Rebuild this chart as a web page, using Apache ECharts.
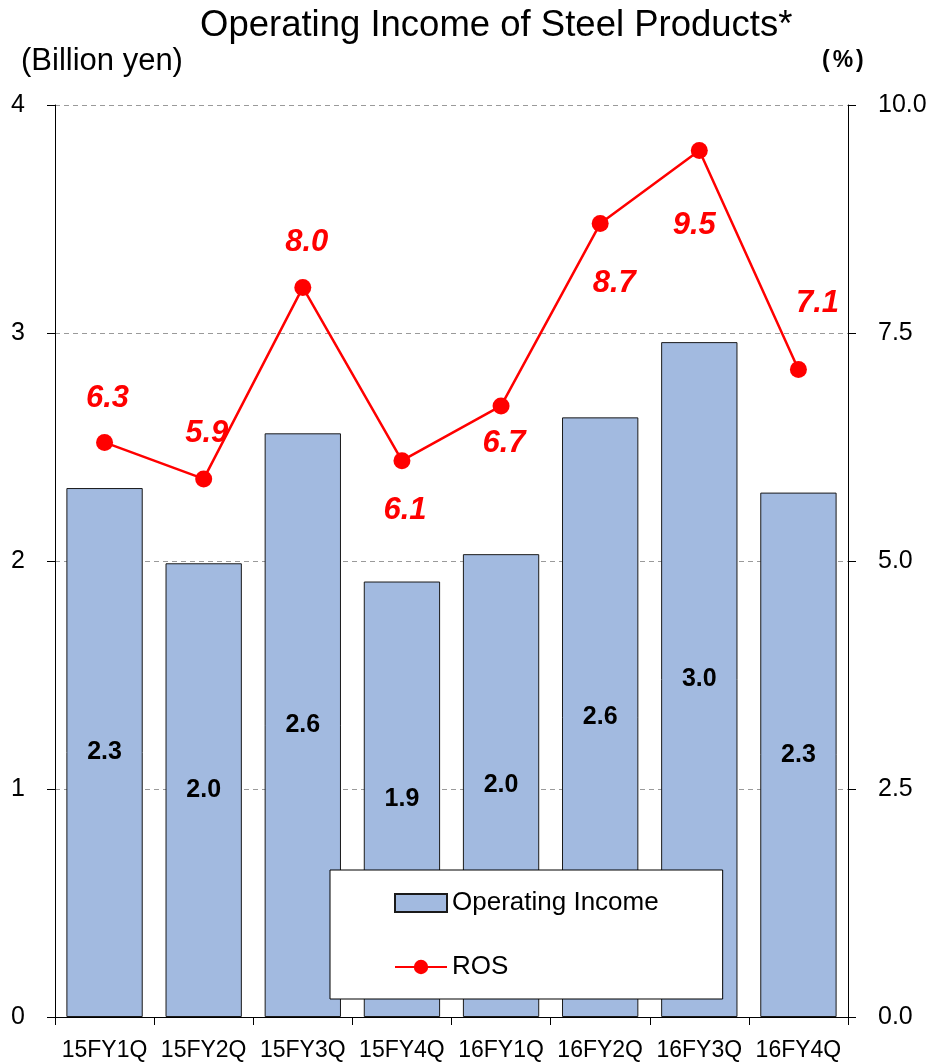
<!DOCTYPE html>
<html>
<head>
<meta charset="utf-8">
<script src="https://cdn.jsdelivr.net/npm/echarts@6/dist/echarts.min.js"></script>
<style>
  html, body { margin: 0; padding: 0; background: #fff; }
  #chart { width: 940px; height: 1062px; }
</style>
</head>
<body>
<div id="chart"></div>
<script>
const categories = ['15FY1Q', '15FY2Q', '15FY3Q', '15FY4Q', '16FY1Q', '16FY2Q', '16FY3Q', '16FY4Q']
const operatingIncome = [2.32, 1.99, 2.56, 1.91, 2.03, 2.63, 2.96, 2.30]
const ros = [6.3, 5.9, 8.0, 6.1, 6.7, 8.7, 9.5, 7.1]
const leftTicks = [0, 1, 2, 3, 4]
const rightTicks = [0, 2.5, 5, 7.5, 10]

// where each ROS label sits, measured from its marker
const rosLabelOffset = [[3, -44], [3, -45], [4, -45], [3, 50], [3, 37], [14, 60], [-5, 75], [19, -66]]

const FONT = '"Liberation Sans", Arial, sans-serif'

const chart = echarts.init(document.getElementById('chart'))

const option = {
  backgroundColor: '#fff',
  animation: false,
  textStyle: { fontFamily: FONT, color: '#000' },
  title: [{
    text: 'Operating Income of Steel Products*',
    left: 195,
    top: 2,
    textStyle: { fontFamily: FONT, fontSize: 36.5, fontWeight: 'normal', color: '#000' }
  }, {
    text: '(Billion yen)',
    left: 16,
    top: 41,
    textStyle: { fontFamily: FONT, fontSize: 31, fontWeight: 'normal', color: '#000' }
  }, {
    text: '{p|(}{b|%}{p|)}',
    left: 817,
    top: 44,
    textStyle: {
      rich: {
        p: { fontFamily: FONT, fontSize: 23, color: '#000' },
        b: { fontFamily: FONT, fontSize: 23, fontWeight: 'bold', color: '#000', padding: [0, 3, 0, 3] }
      }
    }
  }],
  grid: {
    left: 55,
    right: 92,
    top: 105,
    bottom: 45
  },
  legend: {
    orient: 'vertical',
    left: 330,
    top: 870,
    backgroundColor: '#fff',
    borderColor: '#000',
    borderWidth: 1,
    borderRadius: 0,
    padding: [20, 64, 19, 64],
    itemGap: 38,
    itemWidth: 52,
    itemHeight: 18,
    textStyle: { fontFamily: FONT, fontSize: 26, color: '#000', lineHeight: 25 },
    data: [{ name: 'Operating Income', icon: 'rect' }, { name: 'ROS' }]
  },
  xAxis: {
    type: 'category',
    data: categories,
    axisLine: { lineStyle: { color: '#000', width: 1 } },
    axisTick: { show: true, length: 8, lineStyle: { color: '#000' } },
    axisLabel: { interval: 0, fontFamily: FONT, fontSize: 23, color: '#000', margin: 22 }
  },
  yAxis: [{
    type: 'value',
    min: leftTicks[0],
    max: leftTicks[leftTicks.length - 1],
    interval: leftTicks[1] - leftTicks[0],
    axisLine: { show: true, lineStyle: { color: '#000', width: 1 } },
    axisTick: { show: true, length: 8, lineStyle: { color: '#000' } },
    axisLabel: { fontFamily: FONT, fontSize: 25, color: '#000', margin: 30 },
    splitLine: { show: true, lineStyle: { color: '#9a9a9a', type: [5, 4], width: 1 } }
  }, {
    type: 'value',
    min: rightTicks[0],
    max: rightTicks[rightTicks.length - 1],
    interval: rightTicks[1] - rightTicks[0],
    axisLine: { show: true, lineStyle: { color: '#000', width: 1 } },
    axisTick: { show: true, length: 8, lineStyle: { color: '#000' } },
    axisLabel: {
      fontFamily: FONT,
      fontSize: 25,
      color: '#000',
      margin: 30,
      formatter: v => v.toFixed(1)
    },
    splitLine: { show: false }
  }],
  series: [{
    name: 'Operating Income',
    type: 'bar',
    yAxisIndex: 0,
    data: operatingIncome,
    barCategoryGap: '23%',
    itemStyle: {
      color: '#a2bae0',
      borderColor: '#1a1a1a',
      borderWidth: 1
    },
    label: {
      show: true,
      position: 'inside',
      fontFamily: FONT,
      fontSize: 25,
      fontWeight: 'bold',
      color: '#000',
      formatter: p => p.value.toFixed(1)
    }
  }, {
    name: 'ROS',
    type: 'line',
    yAxisIndex: 1,
    z: 3,
    symbol: 'circle',
    symbolSize: 17,
    lineStyle: { color: '#ff0000', width: 2.5 },
    itemStyle: { color: '#ff0000' },
    data: ros.map((v, i) => ({
      value: v,
      label: { offset: rosLabelOffset[i] }
    })),
    label: {
      show: true,
      position: 'inside',
      fontFamily: FONT,
      fontSize: 31,
      fontWeight: 'bold',
      fontStyle: 'italic',
      color: '#ff0000',
      formatter: p => p.value.toFixed(1)
    }
  }]
}

chart.setOption(option)
</script>
</body>
</html>
